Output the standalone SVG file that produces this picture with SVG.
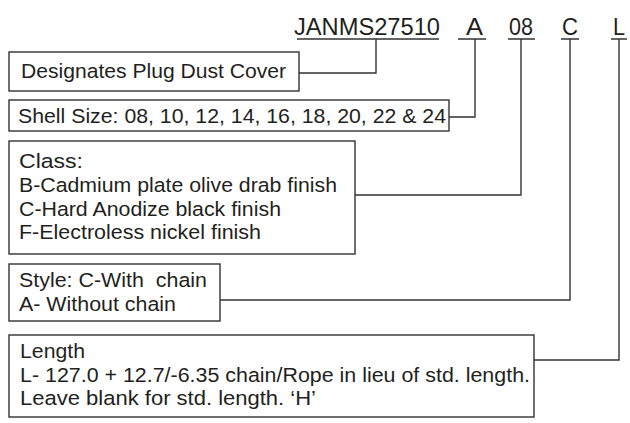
<svg xmlns="http://www.w3.org/2000/svg" width="630" height="423" viewBox="0 0 630 423">
<style>
text{font-family:"Liberation Sans",Arial,sans-serif;fill:#231f20}
.t{font-size:20.5px}
.h{font-size:24.5px}
.box{fill:#fff;stroke:#333;stroke-width:1.4}
.ln{fill:none;stroke:#333;stroke-width:1.4}
</style>
<rect width="630" height="423" fill="#fff"/>
<g id="code">
<text class="h" x="294" y="35" textLength="146" lengthAdjust="spacingAndGlyphs">JANMS27510</text>
<text class="h" x="466" y="35" textLength="17" lengthAdjust="spacingAndGlyphs">A</text>
<text class="h" x="509" y="35" textLength="24" lengthAdjust="spacingAndGlyphs">08</text>
<text class="h" x="562" y="35" textLength="16" lengthAdjust="spacingAndGlyphs">C</text>
<text class="h" x="613" y="35" textLength="12" lengthAdjust="spacingAndGlyphs">L</text>
</g>
<g id="connectors">
<path class="ln" d="M297 39H439M376 39V73H299"/>
<path class="ln" d="M458 39H486M475 39V117H449"/>
<path class="ln" d="M508 39H535M521 39V195H355"/>
<path class="ln" d="M561 39H579M570 39V300H220"/>
<path class="ln" d="M611 39H627M619 39V360H534"/>
</g>
<g id="node-cover">
<rect class="box" x="9" y="52" width="290" height="39"/>
<text class="t" x="21" y="78" textLength="265" lengthAdjust="spacingAndGlyphs">Designates Plug Dust Cover</text>
</g>
<g id="node-shell">
<rect class="box" x="9" y="100" width="440" height="31"/>
<text class="t" x="18" y="123" textLength="428" lengthAdjust="spacingAndGlyphs">Shell Size: 08, 10, 12, 14, 16, 18, 20, 22 &amp; 24</text>
</g>
<g id="node-class">
<rect class="box" x="9" y="141" width="346" height="113"/>
<text class="t" x="19" y="168" textLength="64" lengthAdjust="spacingAndGlyphs">Class:</text>
<text class="t" x="19" y="192" textLength="318" lengthAdjust="spacingAndGlyphs">B-Cadmium plate olive drab finish</text>
<text class="t" x="19" y="216" textLength="262" lengthAdjust="spacingAndGlyphs">C-Hard Anodize black finish</text>
<text class="t" x="19" y="239" textLength="242" lengthAdjust="spacingAndGlyphs">F-Electroless nickel finish</text>
</g>
<g id="node-style">
<rect class="box" x="9" y="264" width="211" height="57"/>
<text class="t" x="19" y="287" textLength="188" lengthAdjust="spacingAndGlyphs" xml:space="preserve">Style: C-With  chain</text>
<text class="t" x="19" y="311" textLength="157" lengthAdjust="spacingAndGlyphs">A- Without chain</text>
</g>
<g id="node-length">
<rect class="box" x="9" y="335" width="525" height="82"/>
<text class="t" x="20" y="358" textLength="65" lengthAdjust="spacingAndGlyphs">Length</text>
<text class="t" x="20" y="382" textLength="510" lengthAdjust="spacingAndGlyphs">L- 127.0 + 12.7/-6.35 chain/Rope in lieu of std. length.</text>
<text class="t" x="20" y="405" textLength="296" lengthAdjust="spacingAndGlyphs">Leave blank for std. length. ‘H’</text>
</g>
</svg>
